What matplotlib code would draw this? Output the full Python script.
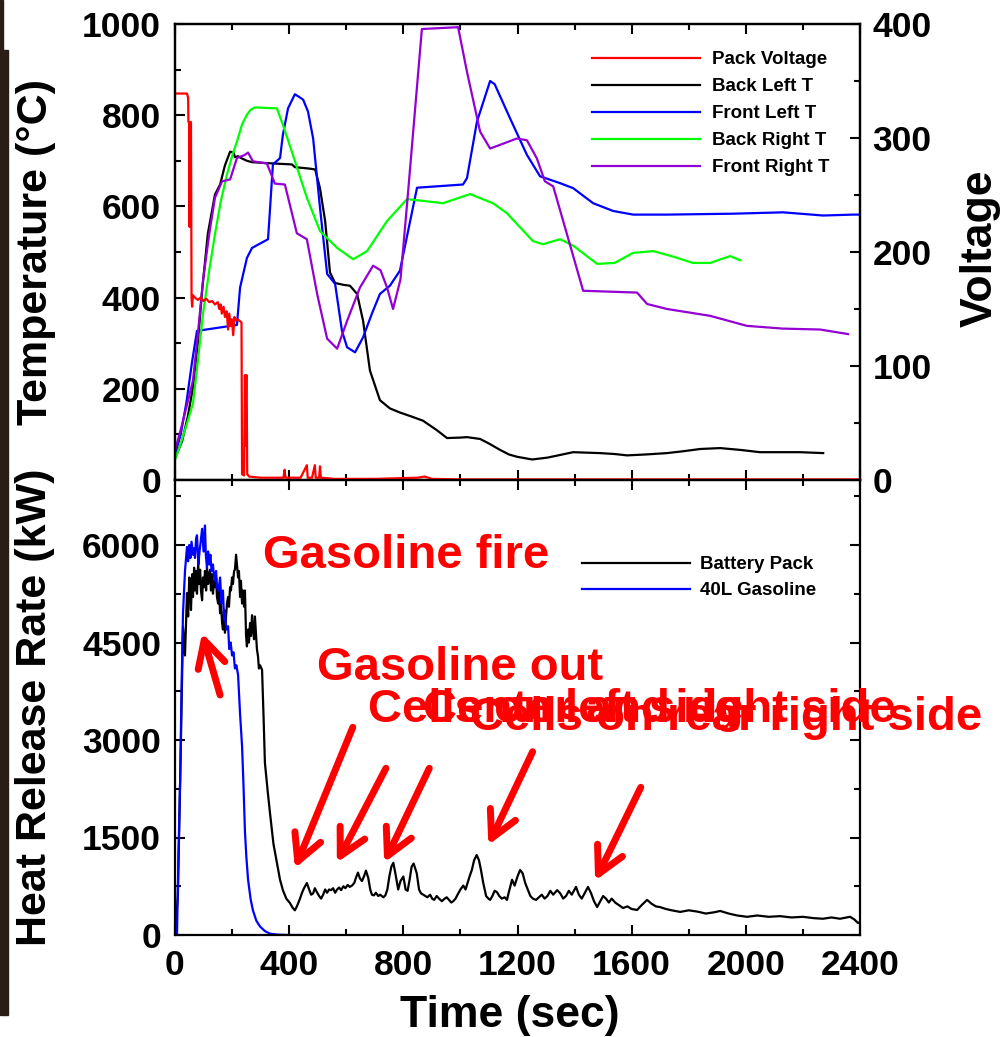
import matplotlib
matplotlib.use('Agg')
import matplotlib.pyplot as plt
from matplotlib.ticker import MultipleLocator
from matplotlib.patches import Rectangle

plt.rcParams['font.family'] = ['Liberation Sans', 'DejaVu Sans']
plt.rcParams['font.weight'] = 'bold'
plt.rcParams['axes.labelweight'] = 'bold'

# ---------------- data (time in s) ----------------
pack_voltage = [(0, 339), (42, 339), (46, 335), (47, 314), (50, 314), (51, 222), (52, 314), (56, 314),
                (58, 160), (60, 152), (63, 162), (70, 160), (80, 158), (90, 160), (100, 157), (110, 159),
                (120, 156), (130, 157), (140, 154), (150, 156), (155, 150), (160, 154), (164, 146),
                (170, 152), (175, 143), (181, 148), (186, 132), (190, 146), (195, 135), (199, 141),
                (204, 127), (208, 143), (213, 140), (218, 141), (225, 140), (233, 138), (235, 5),
                (242, 4), (245, 92), (247, 30), (249, 90), (251, 92), (253, 5), (260, 3), (300, 2),
                (380, 2), (384, 9), (387, 2), (440, 2), (462, 13), (465, 2), (480, 2), (490, 13),
                (493, 2), (505, 2), (508, 12), (511, 2), (560, 1), (700, 1), (850, 2), (875, 3),
                (900, 1), (1000, 0.5), (1500, 0.5), (2000, 0.5), (2400, 0.5)]

back_left = [(0, 48), (25, 85), (45, 140), (63, 203), (80, 300), (95, 415), (115, 540), (140, 626),
             (158, 648), (175, 690), (193, 720), (205, 718), (210, 708), (221, 710), (235, 705),
             (252, 700), (270, 697), (320, 695), (350, 694), (380, 693), (410, 692), (420, 686),
             (470, 683), (491, 681), (508, 640), (526, 568), (543, 455), (561, 432), (590, 428),
             (613, 426), (638, 408), (659, 349), (683, 240), (718, 175), (753, 157), (788, 148),
             (834, 138), (869, 130), (918, 109), (953, 92), (999, 93), (1023, 94), (1069, 90),
             (1100, 80), (1139, 66), (1170, 56), (1198, 51), (1251, 45), (1304, 49), (1350, 55),
             (1395, 61), (1440, 60), (1489, 59), (1540, 57), (1584, 54), (1650, 56), (1724, 59),
             (1780, 63), (1840, 68), (1910, 70), (1980, 66), (2050, 61), (2120, 61), (2190, 61),
             (2271, 59)]

front_left = [(0, 55), (20, 100), (40, 170), (60, 260), (77, 327), (217, 340), (228, 422), (252, 487),
              (270, 509), (326, 528), (343, 692), (368, 706), (378, 757), (396, 815), (420, 846),
              (435, 840), (449, 834), (466, 808), (484, 749), (508, 597), (533, 452), (561, 430),
              (585, 327), (603, 291), (631, 280), (659, 313), (690, 365), (718, 408), (753, 426),
              (788, 459), (848, 641), (1009, 648), (1023, 662), (1058, 786), (1104, 875),
              (1120, 868), (1174, 793), (1233, 713), (1279, 666), (1349, 651), (1395, 640),
              (1465, 607), (1535, 590), (1605, 582), (1724, 582), (1955, 584), (2130, 587),
              (2271, 580), (2376, 582), (2400, 582)]

back_right = [(0, 45), (20, 80), (40, 120), (63, 168), (80, 260), (98, 364), (120, 460), (140, 539),
              (160, 610), (182, 670), (200, 710), (217, 742), (235, 780), (252, 801), (265, 812),
              (280, 817), (357, 815), (378, 779), (413, 713), (462, 619), (508, 546), (568, 509),
              (624, 484), (673, 502), (743, 568), (813, 616), (870, 612), (939, 607), (1034, 627),
              (1114, 607), (1163, 585), (1254, 524), (1289, 517), (1349, 528), (1395, 514),
              (1479, 474), (1540, 476), (1605, 498), (1675, 502), (1745, 490), (1815, 476),
              (1875, 476), (1945, 491), (1980, 482)]

front_right = [(0, 65), (20, 110), (40, 160), (63, 218), (80, 320), (98, 437), (120, 540), (140, 619),
               (165, 655), (193, 659), (217, 706), (245, 713), (256, 718), (273, 699), (322, 694),
               (350, 650), (385, 648), (427, 541), (462, 528), (498, 408), (533, 310), (568, 288),
               (603, 349), (648, 422), (694, 470), (720, 460), (743, 422), (764, 375), (790, 440),
               (813, 605), (865, 989), (992, 993), (1023, 895), (1069, 764), (1104, 727),
               (1139, 735), (1198, 749), (1233, 745), (1268, 705), (1296, 655), (1325, 644),
               (1360, 568), (1430, 415), (1619, 411), (1654, 386), (1724, 375), (1875, 360),
               (2004, 338), (2130, 332), (2260, 330), (2358, 320)]

battery_pack = [(0, 0), (10, 600), (20, 2800), (28, 4740), (35, 4300), (42, 5260), (46, 4900), (50, 5500),
                (53, 5460), (56, 5000), (60, 5550), (63, 5200), (67, 5650), (70, 5300), (74, 5600),
                (77, 5250), (81, 5700), (84, 5400), (88, 5620), (91, 5300), (95, 5150), (98, 5500),
                (102, 5350), (105, 5600), (109, 5300), (112, 5650), (116, 5400), (119, 5550),
                (123, 5620), (126, 5300), (130, 5550), (133, 5250), (137, 5450), (140, 5350),
                (144, 5500), (147, 5200), (151, 5100), (154, 5300), (158, 4950), (161, 5100),
                (165, 4800), (168, 4700), (172, 5000), (175, 4650), (179, 4900), (182, 5100),
                (186, 5200), (189, 5050), (193, 5350), (196, 5300), (200, 5500), (203, 5400),
                (207, 5600), (210, 5620), (214, 5850), (217, 5700), (221, 5500), (224, 5600),
                (228, 5200), (231, 5450), (235, 5100), (238, 5300), (242, 5050), (245, 5300),
                (249, 4600), (252, 4440), (256, 4700), (259, 4500), (263, 4800), (266, 4600),
                (270, 4920), (273, 4700), (277, 4550), (280, 4900), (284, 4600), (287, 4400),
                (291, 4280), (294, 4100), (298, 4150), (305, 4080), (310, 3400), (315, 2650),
                (325, 2200), (333, 1870), (345, 1400), (357, 1110), (368, 850), (378, 690),
                (390, 560), (403, 490), (412, 420), (420, 380), (428, 450), (438, 560), (445, 650),
                (452, 720), (462, 800), (470, 700), (477, 620), (484, 640), (490, 720), (497, 660),
                (505, 600), (512, 560), (519, 620), (526, 700), (533, 650), (540, 700), (547, 690),
                (554, 720), (561, 650), (568, 700), (575, 730), (582, 690), (590, 750), (597, 720),
                (605, 770), (612, 740), (620, 760), (628, 800), (634, 880), (641, 960), (648, 870),
                (655, 830), (662, 900), (669, 990), (677, 880), (684, 700), (690, 620), (697, 610),
                (704, 650), (712, 600), (719, 620), (730, 580), (737, 610), (744, 700), (751, 900),
                (758, 1050), (765, 1110), (772, 950), (782, 700), (790, 830), (800, 900), (808, 700),
                (815, 680), (822, 850), (829, 1050), (836, 1100), (847, 950), (855, 700), (862, 640),
                (870, 620), (877, 600), (884, 580), (894, 620), (901, 560), (908, 540), (917, 600),
                (925, 560), (935, 520), (945, 560), (952, 580), (960, 540), (968, 500), (975, 520),
                (983, 560), (990, 620), (1000, 700), (1010, 760), (1018, 700), (1025, 800),
                (1032, 900), (1040, 1000), (1048, 1150), (1057, 1230), (1065, 1150), (1072, 1000),
                (1080, 800), (1090, 600), (1098, 560), (1104, 540), (1112, 600), (1120, 680),
                (1128, 660), (1136, 600), (1145, 560), (1155, 580), (1163, 540), (1172, 700),
                (1181, 850), (1190, 760), (1200, 900), (1209, 1000), (1218, 950), (1227, 800),
                (1236, 700), (1245, 600), (1254, 560), (1265, 540), (1275, 580), (1285, 620),
                (1295, 560), (1305, 600), (1315, 680), (1325, 620), (1339, 690), (1350, 640),
                (1360, 560), (1370, 600), (1380, 680), (1390, 620), (1405, 740), (1415, 620),
                (1425, 560), (1435, 640), (1447, 740), (1458, 640), (1468, 520), (1479, 430),
                (1490, 520), (1500, 600), (1510, 560), (1520, 500), (1530, 560), (1542, 500),
                (1555, 460), (1570, 415), (1585, 440), (1600, 400), (1619, 385), (1635, 460),
                (1654, 540), (1670, 480), (1685, 440), (1699, 430), (1720, 400), (1740, 380),
                (1770, 355), (1800, 380), (1830, 360), (1860, 330), (1890, 350), (1910, 370),
                (1940, 330), (1970, 300), (2004, 280), (2040, 300), (2080, 280), (2120, 290),
                (2160, 270), (2200, 280), (2236, 260), (2270, 250), (2300, 270), (2330, 250),
                (2365, 280), (2380, 240), (2393, 185), (2400, 200)]

gasoline = [(0, 0), (7, 0), (12, 1200), (18, 2380), (23, 3800), (28, 4950), (35, 5600), (42, 5970),
            (46, 5750), (50, 6000), (54, 5800), (58, 6050), (63, 5850), (67, 5950), (70, 5800),
            (74, 6100), (77, 6150), (82, 5700), (86, 5900), (90, 6050), (95, 6250), (100, 5900),
            (105, 6300), (108, 5850), (112, 5650), (116, 5900), (120, 5700), (124, 5850), (128, 5600),
            (133, 5700), (137, 5500), (140, 5450), (144, 5600), (147, 5350), (152, 5300), (158, 5500),
            (163, 5100), (168, 5300), (172, 4850), (175, 4950), (180, 4700), (186, 4750), (190, 4400),
            (195, 4500), (200, 4300), (205, 4350), (210, 4100), (215, 4150), (221, 4000), (228, 3400),
            (235, 2900), (240, 2300), (245, 1600), (250, 1200), (256, 850), (265, 550), (273, 380),
            (285, 220), (298, 130), (315, 60), (333, 20), (360, 5), (400, 0), (438, 0)]

# annotations (text left/baseline position, arrows tail -> head), in data units
notes = ["Gasoline fire", "Gasoline out", "Cells on left side", "Center and right side",
         "Cells on rear right side"]
note_t = [308, 498, 676, 869, 1034]
note_q = [5646, 3923, 3277, 3277, 3154]
arrow_tail = [(158, 3692), (623, 3195), (739, 2565), (891, 2565), (1253, 2820), (1632, 2272)]
arrow_head = [(95, 4646), (420, 1026), (567, 1113), (733, 1113), (1098, 1385), (1472, 835)]


def xy(series):
    return [p[0] for p in series], [p[1] for p in series]


W, H = 1006, 1037
fig = plt.figure(figsize=(W / 100, H / 100), dpi=100)


def fx(px):
    return px / W


def fy(py):
    return 1 - py / H


L, R = 175, 860
ax1 = fig.add_axes([fx(L), fy(480), (R - L) / W, (480 - 24) / H])
ax2 = fig.add_axes([fx(L), fy(935), (R - L) / W, (935 - 480) / H], sharex=ax1)
axv = ax1.twinx()

lw = 1.6
h_bl, = ax1.plot(*xy(back_left), color='black', lw=lw, label='Back Left T')
h_fl, = ax1.plot(*xy(front_left), color='#0000ff', lw=lw, label='Front Left T')
h_br, = ax1.plot(*xy(back_right), color='#00ff00', lw=lw, label='Back Right T')
h_fr, = ax1.plot(*xy(front_right), color='#9400d3', lw=lw, label='Front Right T')
h_pv, = axv.plot(*xy(pack_voltage), color='#ff0000', lw=lw, label='Pack Voltage')

ax2.plot(*xy(battery_pack), color='black', lw=lw, label='Battery Pack')
ax2.plot(*xy(gasoline), color='#0000ff', lw=lw, label='40L Gasoline')

ax1.set_xlim(0, 2400)
ax1.set_ylim(0, 1000)
axv.set_ylim(0, 400)
ax2.set_ylim(0, 7000)

ax2.xaxis.set_major_locator(MultipleLocator(400))
ax2.xaxis.set_minor_locator(MultipleLocator(200))
ax1.yaxis.set_major_locator(MultipleLocator(200))
ax1.yaxis.set_minor_locator(MultipleLocator(100))
axv.yaxis.set_major_locator(MultipleLocator(100))
axv.yaxis.set_minor_locator(MultipleLocator(50))
ax2.yaxis.set_major_locator(MultipleLocator(1500))
ax2.yaxis.set_minor_locator(MultipleLocator(750))

for ax in (ax1, ax2, axv):
    for s in ax.spines.values():
        s.set_linewidth(1.6)
    ax.tick_params(which='both', direction='in', width=1.5, labelsize=25.5)
    ax.tick_params(which='major', length=7)
    ax.tick_params(which='minor', length=4)

ax1.tick_params(which='both', top=True, right=False, labelbottom=False)
ax1.tick_params(axis='y', pad=10)
axv.tick_params(axis='y', pad=9)
ax2.tick_params(which='both', top=True, right=True)
ax2.tick_params(axis='y', pad=10)
ax2.tick_params(axis='x', pad=10)

ax1.set_ylabel('Temperature (°C)', fontsize=31, va='center')
ax1.yaxis.set_label_coords((36 - L) / (R - L), 0.5)
ax2.set_ylabel('Heat Release Rate (kW)', fontsize=31, va='center')
ax2.yaxis.set_label_coords((35 - L) / (R - L), 0.5)
axv.set_ylabel('Voltage', fontsize=32, va='center')
axv.yaxis.set_label_coords((980 - L) / (R - L), (480 - 248) / 456)
ax2.set_xlabel('Time (sec)', fontsize=32, va='center')
ax2.xaxis.set_label_coords((510 - L) / (R - L), (935 - 1015) / 455)

axv.legend([h_pv, h_bl, h_fl, h_br, h_fr],
           ['Pack Voltage', 'Back Left T', 'Front Left T', 'Back Right T', 'Front Right T'],
           loc='upper left', bbox_to_anchor=(fx(592), fy(51)), bbox_transform=fig.transFigure,
           frameon=False, fontsize=13.5, handlelength=5.76, handletextpad=0.64,
           labelspacing=0.53, borderpad=0, borderaxespad=0)
ax2.legend(loc='upper left', bbox_to_anchor=(fx(582), fy(556)), bbox_transform=fig.transFigure,
           frameon=False, fontsize=13.5, handlelength=5.76, handletextpad=0.53,
           labelspacing=0.47, borderpad=0, borderaxespad=0)

for txt, t, q in zip(notes, note_t, note_q):
    ax2.text(t, q, txt, color='#ff0000', fontsize=34, fontweight='bold', ha='left', va='baseline')

for (tt, tq), (ht, hq) in zip(arrow_tail, arrow_head):
    ax2.annotate('', xy=(ht, hq), xytext=(tt, tq),
                 arrowprops=dict(arrowstyle='->,head_length=1.9,head_width=1.0', color='#ff0000',
                                 lw=5, mutation_scale=10, shrinkA=0, shrinkB=0))

# dark photo strip at the left edge of the original picture
fig.patches.append(Rectangle((0, fy(1015)), fx(8), (1015 - 50) / H, transform=fig.transFigure,
                             color='#2a1d17', zorder=0))
fig.patches.append(Rectangle((0, fy(50)), fx(3), 50 / H, transform=fig.transFigure,
                             color='#2a1d17', zorder=0))

fig.savefig('out.png', dpi=100)
